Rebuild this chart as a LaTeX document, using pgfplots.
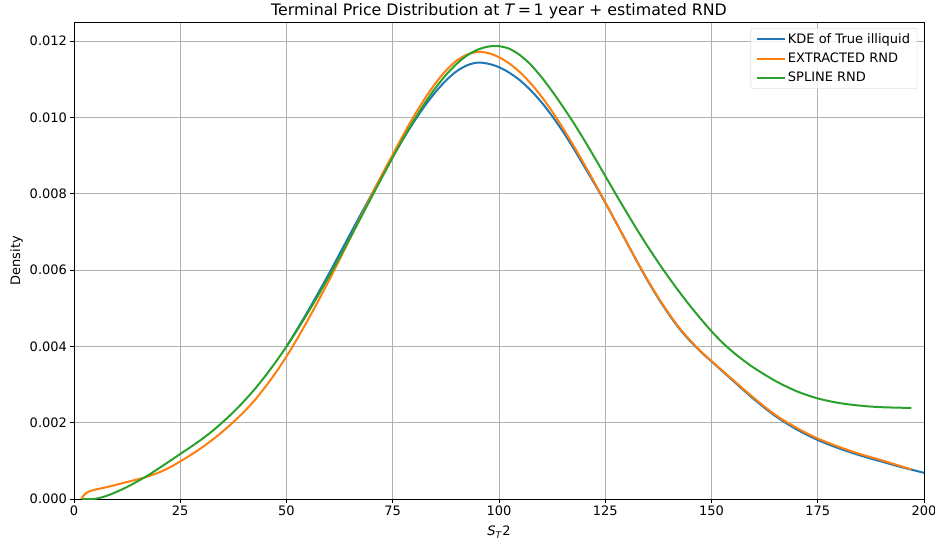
\documentclass[border=0pt]{standalone}
\usepackage{fontspec}
\setmainfont{DejaVu Sans}
\usepackage{pgfplots}
\usetikzlibrary{calc}
\pgfplotsset{compat=1.18}
\definecolor{C0}{HTML}{1F77B4}
\definecolor{C1}{HTML}{FF7F0E}
\definecolor{C2}{HTML}{2CA02C}
\definecolor{gridc}{HTML}{B0B0B0}
\begin{document}
\begin{tikzpicture}
\begin{axis}[
  scale only axis,
  width=850pt, height=477pt,
  xmin=0, xmax=200, ymin=0, ymax=0.0125,
  xtick={0,25,50,75,100,125,150,175,200},
  ytick={0,0.002,0.004,0.006,0.008,0.010,0.012},
  scaled y ticks=false,
  yticklabel style={/pgf/number format/.cd, fixed, fixed zerofill, precision=3},
  /pgf/number format/assume math mode=true,
  tick label style={font=\fontsize{13}{15}\selectfont},
  label style={font=\fontsize{13}{15}\selectfont},
  xlabel style={yshift=-3pt},
  tick align=outside, tick pos=left,
  major tick length=3.5pt,
  every tick/.style={black, line width=0.8pt},
  axis line style={black, line width=0.8pt},
  grid=major,
  major grid style={gridc, line width=0.8pt},
  title={Terminal Price Distribution at \textit{T}\,=\,1 year + estimated RND},
  title style={font=\fontsize{15.8}{18}\selectfont, yshift=-6pt},
  xlabel={\textit{S}\textsubscript{\textit{T}}2},
  ylabel={Density},
  legend style={at={(0.992,0.988)}, anchor=north east, draw=black!20, rounded corners=2pt,
    fill=white, fill opacity=0.8, text opacity=1, font=\fontsize{13}{15}\selectfont,
    row sep=4pt, inner xsep=5pt, inner ysep=3.5pt},
  legend cell align=left,
  legend image code/.code={\draw[#1] (0pt,0pt) -- (28pt,0pt);},
  every axis plot/.append style={line width=2pt},
]
\addplot[C0, smooth] coordinates {
(50,0.00400) (52.5,0.00445) (55,0.00492) (57.5,0.00541) (60,0.00591) (62.5,0.00643)
(65,0.00695) (67.5,0.00747) (70,0.00798) (72.5,0.00849) (75,0.00898) (77.5,0.00945)
(80,0.00989) (82.5,0.01030) (85,0.01066) (87.5,0.01097) (90,0.01121) (92.5,0.01137)
(95,0.01144) (97.5,0.01141) (100,0.01132) (102.5,0.01117) (105,0.01097) (107.5,0.01071)
(110,0.01040) (112.5,0.01004) (115,0.00964) (117.5,0.00920) (120,0.00873) (122.5,0.00826)
(125,0.00777) (127.5,0.00726) (130,0.00674) (132.5,0.00622) (135,0.00572) (137.5,0.00526)
(140,0.00484) (142.5,0.00446) (145,0.00414) (147.5,0.00386) (150,0.00361) (155,0.00311)
(160,0.00262) (165,0.00218) (170,0.00183) (175,0.00155) (180,0.00133) (185,0.001145)
(190,0.000985) (195,0.00083) (200,0.00069)
};
\addlegendentry{KDE of True illiquid}
\addplot[C1, smooth] coordinates {
(1.7,0) (2.3,0.0001) (3,0.00017) (4,0.00022) (5,0.00025) (7.5,0.00031) (10,0.00038)
(12.5,0.00045) (15,0.00052) (17.5,0.00060) (20,0.00070) (22.5,0.00083) (25,0.00099)
(27.5,0.00116) (30,0.001345) (32.5,0.00155) (35,0.001775) (37.5,0.00202) (40,0.00229)
(42.5,0.00259) (45,0.00294) (47.5,0.00332) (50,0.00374) (52.5,0.00420) (55,0.00469)
(57.5,0.00520) (60,0.00573) (62.5,0.00628) (65,0.00684) (67.5,0.00741) (70,0.00797)
(72.5,0.00851) (75,0.00903) (77.5,0.00955) (80,0.01004) (82.5,0.01049) (85,0.01089)
(87.5,0.01123) (90,0.01149) (92.5,0.01165) (95,0.01172) (97.5,0.01169) (100,0.01158)
(102.5,0.01141) (105,0.01118) (107.5,0.01089) (110,0.01055) (112.5,0.01016) (115,0.00973)
(117.5,0.00927) (120,0.00879) (122.5,0.00829) (125,0.00778) (127.5,0.00726) (130,0.00674)
(132.5,0.00623) (135,0.00574) (137.5,0.00528) (140,0.00486) (142.5,0.00448) (145,0.00416)
(147.5,0.00387) (150,0.00362) (155,0.00313) (160,0.00265) (165,0.00221) (170,0.00187)
(175,0.00159) (180,0.00137) (185,0.00118) (190,0.00102) (197,0.00078)
};
\addlegendentry{EXTRACTED RND}
\addplot[C2, smooth] coordinates {
(2,0) (5,0.00001) (7.5,0.00008) (10,0.00019) (12.5,0.00032) (15,0.00047) (17.5,0.00063)
(20,0.00081) (22.5,0.000995) (25,0.001185) (27.5,0.00137) (30,0.001565) (32.5,0.00178)
(35,0.00202) (37.5,0.00228) (40,0.002567) (42.5,0.00288) (45,0.003225) (47.5,0.00360)
(50,0.00400) (52.5,0.00443) (55,0.00488) (57.5,0.00535) (60,0.005837) (62.5,0.00634)
(65,0.006855) (67.5,0.00738) (70,0.00791) (72.5,0.008437) (75,0.008954) (77.5,0.009454)
(80,0.00993) (82.5,0.01037) (85,0.010767) (87.5,0.011114) (90,0.011404) (92.5,0.01163)
(95,0.01178) (97.5,0.01186) (100,0.01187) (102.5,0.01180) (105,0.01163) (107.5,0.01138)
(110,0.01106) (112.5,0.01069) (115,0.01029) (117.5,0.00987) (120,0.00942) (122.5,0.00895)
(125,0.00847) (127.5,0.00799) (130,0.00752) (132.5,0.00706) (135,0.00662) (137.5,0.00620)
(140,0.00580) (142.5,0.00542) (145,0.00506) (147.5,0.00472) (150,0.00440) (152.5,0.00411)
(155,0.00386) (157.5,0.00364) (160,0.00344) (165,0.00310) (170,0.00283) (175,0.00264)
(180,0.00252) (185,0.00245) (190,0.00241) (197,0.00239)
};
\addlegendentry{SPLINE RND}
\end{axis}
\pgfresetboundingbox
\useasboundingbox ($(current axis.south west |- current axis.outer south west)+(-74pt,0)$)
  rectangle ($(current axis.north east |- current axis.outer north east)+(11pt,0)$);
\end{tikzpicture}
\end{document}
